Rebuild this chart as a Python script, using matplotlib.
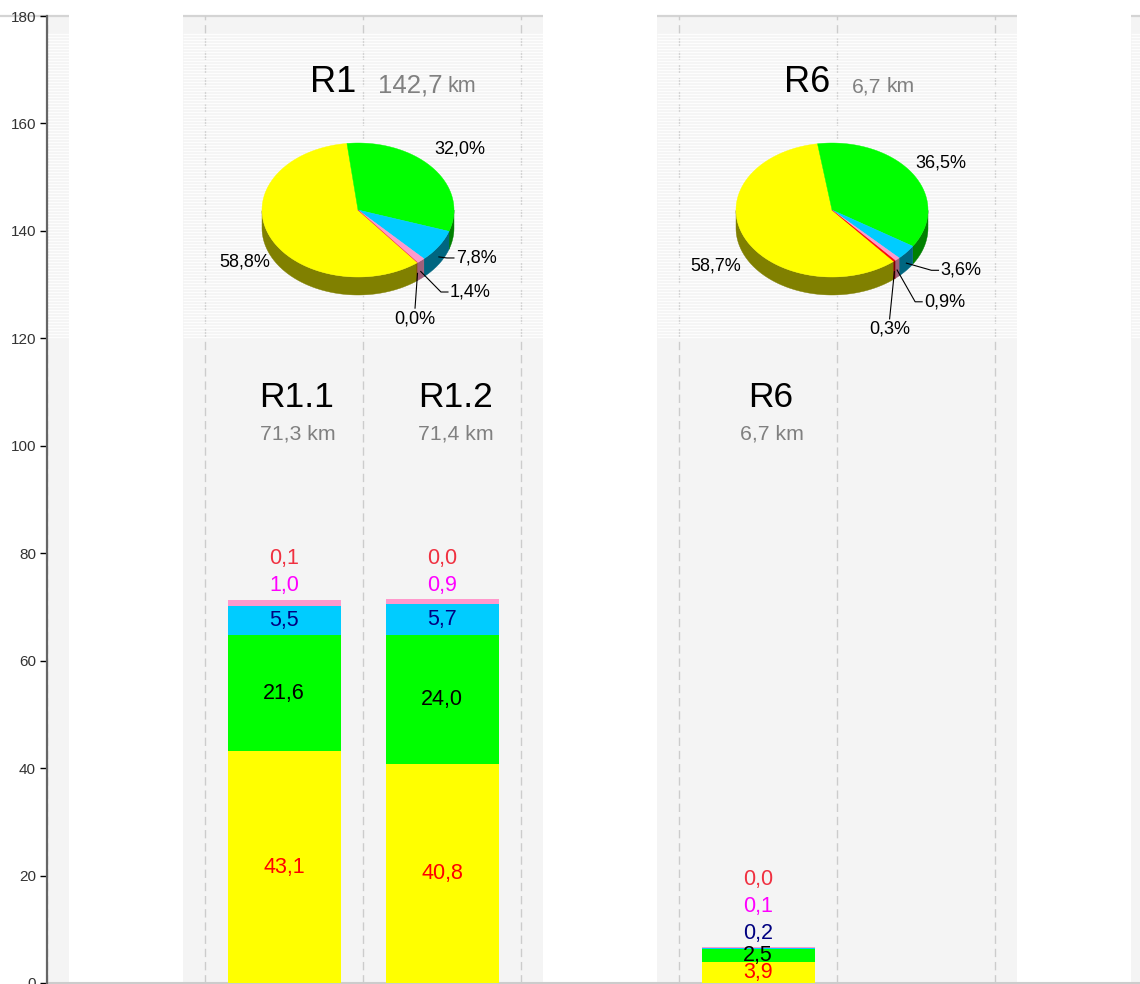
import numpy as np
import matplotlib
matplotlib.use("Agg")
import matplotlib.pyplot as plt
from matplotlib.patches import Polygon, Rectangle
from matplotlib.collections import LineCollection

plt.rcParams['font.family'] = ['Liberation Sans', 'DejaVu Sans']

# ---------------- data ----------------
groups = ["R1", "R6"]
group_km = ["142,7", "6,7"]
group_shares = [
    [58.8, 32.0, 7.8, 1.4, 0.0],
    [58.7, 36.5, 3.6, 0.9, 0.3],
]
sections = ["R1.1", "R1.2", "R6"]
section_km = ["71,3", "71,4", "6,7"]
section_group = [0, 0, 1]
section_slot = [0, 1, 0]
yellow_km = [43.1, 40.8, 3.9]
green_km = [21.6, 24.0, 2.5]
cyan_km = [5.5, 5.7, 0.2]
pink_km = [1.0, 0.9, 0.1]
red_km = [0.1, 0.0, 0.0]
y_ticks = [0, 20, 40, 60, 80, 100, 120, 140, 160, 180]

# ---------------- style ----------------
series = [yellow_km, green_km, cyan_km, pink_km, red_km]
face_colors = ["#ffff00", "#00ff00", "#00ccff", "#ff99cc", "#ff0000"]
wall_colors = ["#808000", "#008000", "#006680", "#a0607a", "#800000"]
label_colors = ["#ff0000", "#000000", "#000080", "#ff00ff", "#f03040"]
band_color = "#f4f4f4"

W, H, DPI = 1140, 984, 100
fig = plt.figure(figsize=(W / DPI, H / DPI), dpi=DPI)
fig.patch.set_facecolor("white")
x_max = (W - 47) / 158.0
ax = fig.add_axes([47 / W, 1 / H, (W - 47) / W, (983 - 16) / H])
ax.set_xlim(0, x_max)
ax.set_ylim(0, 180)
ax.set_facecolor("white")

# pixel -> data scale factors
ppx = ax.bbox.width / x_max
ppy = ax.bbox.height / 180.0

# ---------------- background bands ----------------
pad = 22 / ppx
stripe_lo, stripe_hi = 120.0, 180.0 - 16 / ppy
for g in range(-1, 3):
    x0 = 3 * g + 1 - pad
    x1 = 3 * g + 3 + pad
    ax.add_patch(Rectangle((x0, 0), x1 - x0, 180, facecolor=band_color,
                           edgecolor="none", zorder=0))
    ax.plot([x0, x1], [180, 180], color="#d4d4d4", lw=1.6, zorder=1,
            clip_on=False, solid_capstyle="butt")
    for d in range(3):
        ax.plot([3 * g + 1 + d] * 2, [0, 180], color="#cccccc", lw=1.0,
                dashes=(6, 3.5), zorder=1)
    # light horizontal striping in the upper section
    ys = np.arange(stripe_lo + 1.5 / ppy, stripe_hi, 3.0 / ppy)
    segs = [[(x0, y), (x1, y)] for y in ys]
    ax.add_collection(LineCollection(segs, colors="white", linewidths=1.0,
                                     alpha=0.85, zorder=2))

# ---------------- stacked bars ----------------
bar_w = 113 / ppx
x_pos = [3 * g + 1.5 + s for g, s in zip(section_group, section_slot)]
bottom = np.zeros(len(sections))
for vals, col in zip(series, face_colors):
    ax.bar(x_pos, vals, width=bar_w, bottom=bottom, color=col,
           edgecolor="none", zorder=3)
    bottom = bottom + np.array(vals)

for i, x in enumerate(x_pos):
    base = 0.0
    stacked = 0
    top = sum(s[i] for s in series)
    for vals, lc in zip(series, label_colors):
        v = vals[i]
        txt = f"{v:.1f}".replace(".", ",")
        if v >= 2.0:
            y = base + v / 2
        else:
            y = top + (14 + 27 * stacked) / ppy
            stacked += 1
        ax.text(x, y, txt, ha="center", va="center", fontsize=15.5,
                color=lc, zorder=6)
        base += v
    # section heading
    ax.text(x + 13 / ppx, (983 - 407) / ppy, sections[i], ha="center",
            va="baseline", fontsize=25.5, color="black", zorder=6)
    ax.text(x + 14 / ppx, (983 - 440) / ppy, f"{section_km[i]} km",
            ha="center", va="baseline", fontsize=15.3, color="#808080", zorder=6)

# ---------------- 3D pies ----------------
pie_rx, pie_ry, pie_depth = 96 / ppx, 67 / ppy, 18 / ppy
pie_cy = (983 - 210) / ppy
pie_start = [-51.7, -50.0]
km_number_size = [18.5, 15.2]
km_unit_size = [15.5, 15.2]
# label anchor in ellipse radii units and placement mode
pie_label_layout = [
    [(-1.177, -0.776, "c"), (1.06, 0.91, "c"), (1.02, -0.716, "l"),
     (0.958, -1.224, "l"), (0.594, -1.45, "t")],
    [(-1.216, -0.836, "c"), (1.13, 0.70, "c"), (1.13, -0.90, "l"),
     (0.96, -1.37, "l"), (0.60, -1.61, "t")],
]


def ell(cx, cy, t, rx, ry, dy=0.0):
    r = np.radians(t)
    return np.column_stack([cx + rx * np.cos(r), cy + ry * np.sin(r) - dy])


for g, shares in enumerate(group_shares):
    cx = 3 * g + 2 - 5 / ppx
    cy = pie_cy
    total = sum(shares)
    angle = pie_start[g]
    spans = []
    for share in shares:
        span = 360.0 * share / total
        spans.append((angle - span, angle))
        angle -= span
    # outer walls (front half only)
    for (a0, a1), wc in zip(spans, wall_colors):
        t = np.linspace(a0, a1, 200)
        front = np.sin(np.radians(t)) < 0
        if not front.any():
            continue
        idx = np.where(front)[0]
        runs = np.split(idx, np.where(np.diff(idx) > 1)[0] + 1)
        for run in runs:
            tt = t[run]
            top_arc = ell(cx, cy, tt, pie_rx, pie_ry)
            bot_arc = ell(cx, cy, tt[::-1], pie_rx, pie_ry, pie_depth)
            ax.add_patch(Polygon(np.vstack([top_arc, bot_arc]), closed=True,
                                 facecolor=wc, edgecolor=wc, lw=0.3, zorder=4))
    # top faces
    for (a0, a1), fc in zip(spans, face_colors):
        t = np.linspace(a0, a1, max(3, int(abs(a1 - a0)) + 2))
        pts = np.vstack([[cx, cy], ell(cx, cy, t, pie_rx, pie_ry)])
        ax.add_patch(Polygon(pts, closed=True, facecolor=fc, edgecolor=fc,
                             lw=0.3, zorder=5))
    # percentage labels
    for (a0, a1), share, (lx, ly, mode) in zip(spans, shares, pie_label_layout[g]):
        txt = f"{share:.1f}%".replace(".", ",")
        px = cx + lx * pie_rx
        py = cy + ly * pie_ry
        if mode == "c":
            ax.text(px, py, txt, ha="center", va="center", fontsize=13,
                    color="black", zorder=7)
            continue
        mid = (a0 + a1) / 2
        start = ell(cx, cy, [mid], pie_rx, pie_ry, 0.6 * pie_depth)[0]
        if mode == "l":
            xs = [start[0], px - 9 / ppx, px - 2 / ppx]
            ys = [start[1], py, py]
            ax.text(px, py, txt, ha="left", va="center", fontsize=13,
                    color="black", zorder=7)
        else:
            xs = [start[0], px]
            ys = [start[1], py - 1 / ppy]
            ax.text(px, py - 3 / ppy, txt, ha="center", va="top",
                    fontsize=13, color="black", zorder=7)
        ax.plot(xs, ys, color="black", lw=0.8, zorder=7)
    # group heading
    gx = 3 * g + 2
    hy = (983 - 92) / ppy
    ax.text(gx - 7 / ppx, hy, groups[g], ha="right", va="baseline",
            fontsize=26, color="black", zorder=7)
    t1 = ax.text(gx + 15 / ppx, hy, group_km[g], ha="left", va="baseline",
                 fontsize=km_number_size[g], color="#808080", zorder=7)
    fig.canvas.draw()
    bb = t1.get_window_extent()
    kx = ax.transData.inverted().transform((bb.x1 + 5, bb.y0))[0]
    ax.text(kx, hy, "km", ha="left", va="baseline", fontsize=km_unit_size[g],
            color="#808080", zorder=7)

# ---------------- axes styling ----------------
ax.set_xticks([])
ax.set_yticks(y_ticks)
ax.tick_params(axis="y", direction="out", length=5, width=1, color="black",
               labelsize=11, labelcolor="#333333", pad=3)
for side in ("top", "right"):
    ax.spines[side].set_visible(False)
ax.spines["left"].set_color("#666666")
ax.spines["left"].set_linewidth(1.6)
ax.spines["left"].set_zorder(8)
ax.spines["bottom"].set_color("#cccccc")
ax.spines["bottom"].set_linewidth(1.5)

fig.savefig("out.png", dpi=DPI, facecolor="white")
